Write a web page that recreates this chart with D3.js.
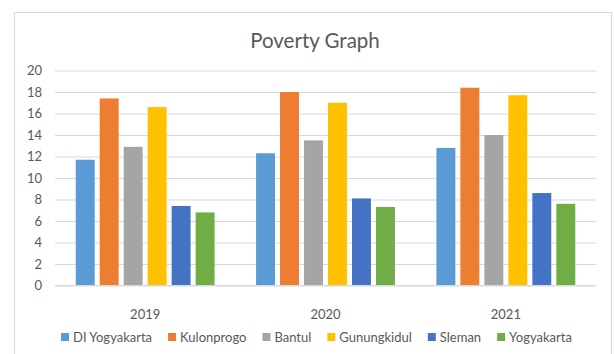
<!DOCTYPE html>
<html>
<head>
<meta charset="utf-8">
<script src="https://cdn.jsdelivr.net/npm/d3@7"></script>
<style>
  body { margin: 0; background: #fff; }
  text { font-family: Lato, "Open Sans", sans-serif; fill: #595959; }
</style>
</head>
<body>
<script>
var years = ["2019", "2020", "2021"];
var regions = ["DI Yogyakarta", "Kulonprogo", "Bantul", "Gunungkidul", "Sleman", "Yogyakarta"];
var diYogyakarta = [11.7, 12.3, 12.8];
var kulonprogo = [17.4, 18.0, 18.4];
var bantul = [12.9, 13.5, 14.0];
var gunungkidul = [16.6, 17.0, 17.7];
var sleman = [7.4, 8.1, 8.6];
var yogyakarta = [6.8, 7.3, 7.6];
var yTicks = [0, 2, 4, 6, 8, 10, 12, 14, 16, 18, 20];
var colors = ["#5B9BD5", "#ED7D31", "#A5A5A5", "#FFC000", "#4472C4", "#70AD47"];

var series = [diYogyakarta, kulonprogo, bantul, gunungkidul, sleman, yogyakarta];

var svg = d3.select("body").append("svg").attr("width", 614).attr("height", 354);

// chart frame
svg.append("rect")
    .attr("x", 14.5).attr("y", 12.5)
    .attr("width", 597).attr("height", 360)
    .attr("fill", "none")
    .attr("stroke", "#d9d9d9");

svg.append("text")
    .text("Poverty Graph")
    .attr("x", 315).attr("y", 48)
    .attr("text-anchor", "middle")
    .style("font-size", "20.5px");

var x0 = d3.scaleBand().domain(years).range([55, 596]).paddingInner(0.23).paddingOuter(0.115);
var x1 = d3.scaleBand().domain(regions).range([0, x0.bandwidth()]).paddingInner(0.21);
var y = d3.scaleLinear().domain([0, 20]).range([285.5, 70.5]);

var yAxis = svg.append("g").attr("transform", "translate(55,0)")
    .call(d3.axisLeft(y).tickValues(yTicks).tickSize(-541).tickPadding(13));
yAxis.select(".domain").remove();
yAxis.selectAll(".tick line").attr("stroke", "#d9d9d9");
yAxis.selectAll(".tick text").style("font-size", "13px").style("fill", "#595959");

var groups = svg.selectAll(".year").data(years).enter().append("g")
    .attr("transform", function(d) { return "translate(" + x0(d) + ",0)"; });

groups.selectAll("rect")
    .data(function(d, i) { return regions.map(function(r, j) { return { region: r, value: series[j][i], color: colors[j] }; }); })
    .enter().append("rect")
    .attr("x", function(d) { return x1(d.region); })
    .attr("y", function(d) { return y(d.value); })
    .attr("width", x1.bandwidth())
    .attr("height", function(d) { return y(0) - y(d.value); })
    .attr("fill", function(d) { return d.color; });

var xAxis = svg.append("g").attr("transform", "translate(0," + y(0) + ")")
    .call(d3.axisBottom(x0).tickSize(0).tickPadding(24));
xAxis.select(".domain").attr("stroke", "#d9d9d9").attr("d", "M55,0H596");
xAxis.selectAll(".tick text").style("font-size", "13px").style("fill", "#595959");

// legend
var legend = svg.append("g").attr("transform", "translate(61,337)");
var lx = 0;
regions.forEach(function(r, i) {
    var item = legend.append("g").attr("transform", "translate(" + lx + ",0)");
    item.append("rect").attr("x", 0).attr("y", -4).attr("width", 8).attr("height", 8).attr("fill", colors[i]);
    var t = item.append("text").text(r).attr("x", 12).attr("y", 4.5).style("font-size", "13px");
    lx += 12 + t.node().getComputedTextLength() + 16;
});
</script>
</body>
</html>
